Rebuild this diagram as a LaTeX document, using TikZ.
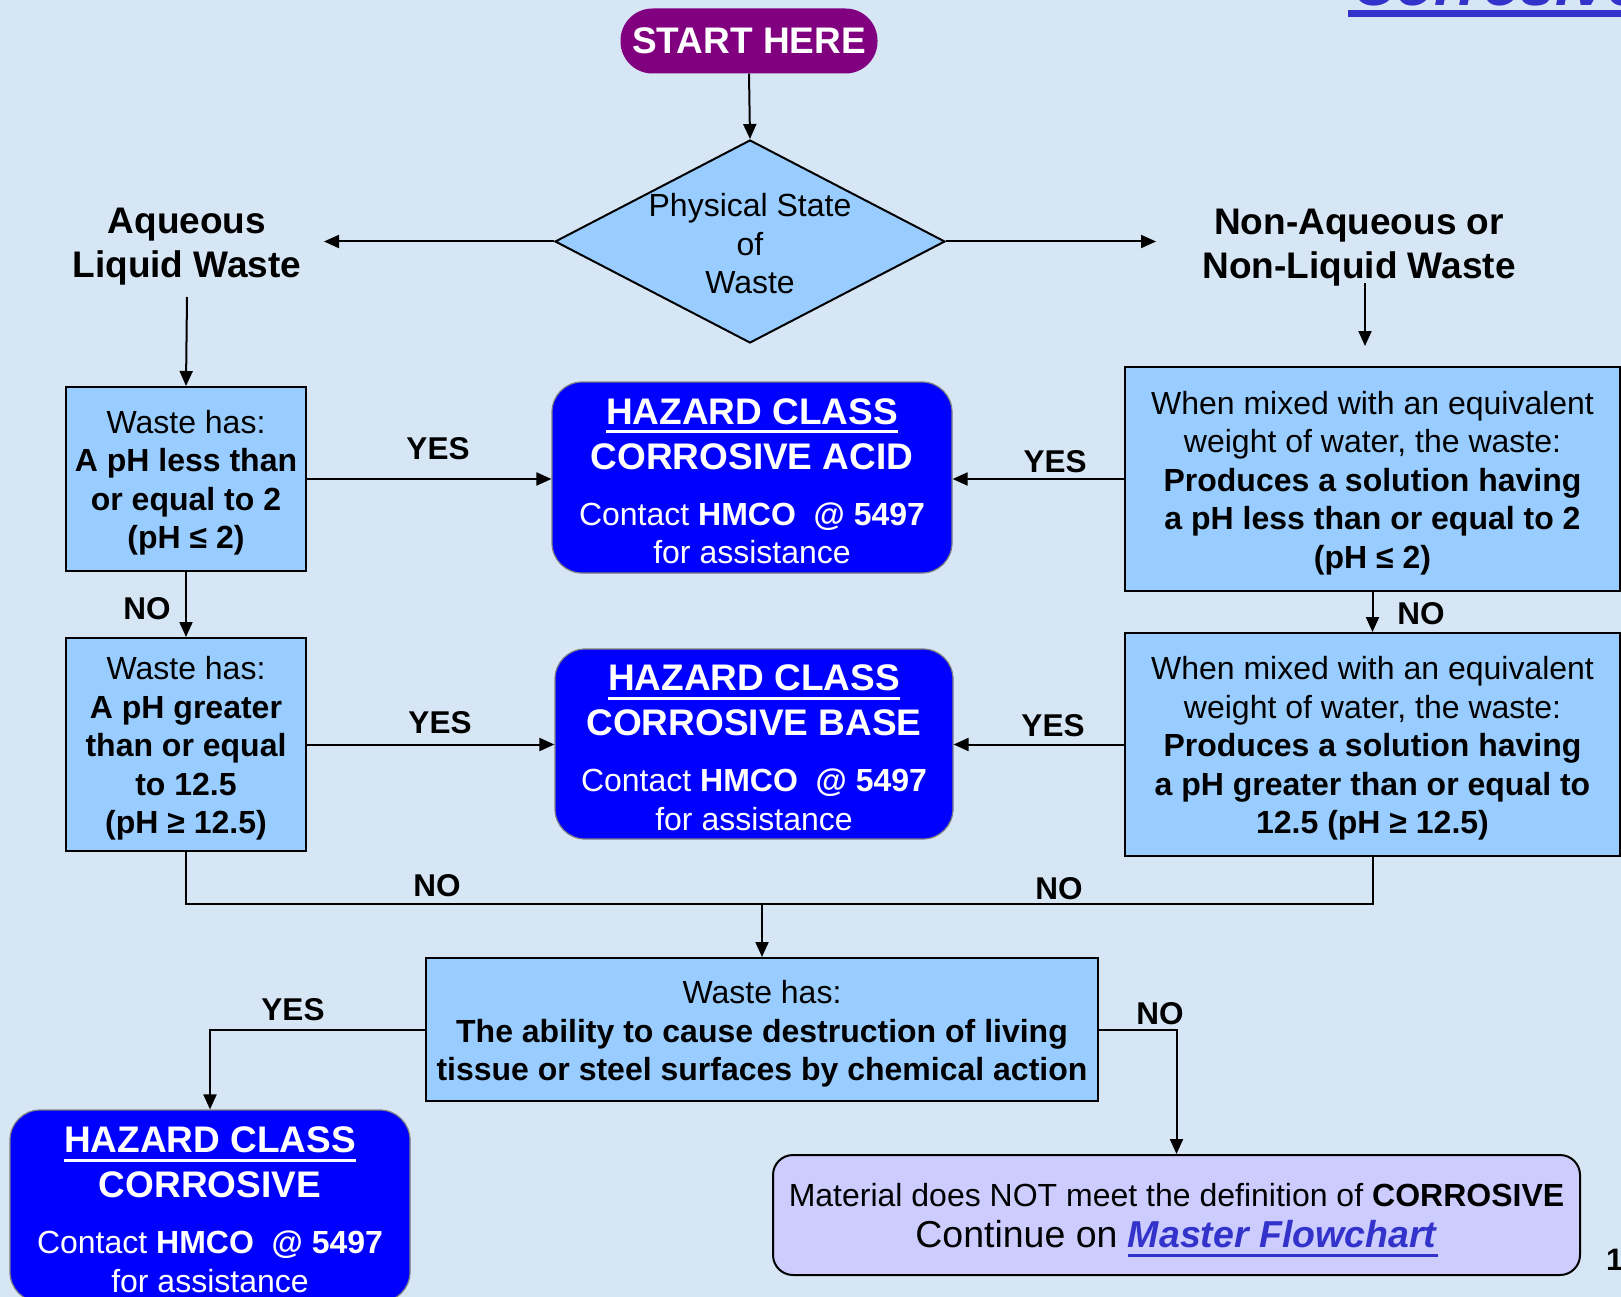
\documentclass[tikz,border=0pt]{standalone}
\usepackage{fontspec}
\setmainfont{Liberation Sans}
\usetikzlibrary{shapes.geometric,arrows.meta}
\definecolor{bgc}{RGB}{215,230,245}
\definecolor{lblue}{RGB}{153,204,255}
\definecolor{dblue}{RGB}{0,0,255}
\definecolor{purp}{RGB}{128,0,128}
\definecolor{lav}{RGB}{204,204,255}
\definecolor{linkc}{RGB}{51,51,204}
\newcommand\fsN{\fontsize{32}{38.5}\selectfont}
\newcommand\fsH{\fontsize{37}{44}\selectfont\bfseries}
\newcommand\fsL{\fontsize{31.5}{36}\selectfont\bfseries}
\newcommand\ulx[1]{\setbox0=\hbox{#1}\rlap{\rule[-9pt]{\wd0}{3pt}}\box0}
\newcommand\tup[1]{\rule{0pt}{#1}}
\tikzset{
  lbox/.style={draw=black, line width=2pt, fill=lblue, align=center, font=\fsN, inner sep=0pt},
  hbox/.style={draw=gray, line width=1.2pt, fill=dblue, rounded corners=30pt, text=white, align=center, font=\fsN, inner sep=0pt},
  arr/.style={line width=2pt, -{Triangle[length=15pt,width=13pt]}},
  conn/.style={line width=2pt},
  lab/.style={font=\fsL, inner sep=0pt},
  head/.style={font=\fsH, align=center, inner sep=0pt}
}
\begin{document}
\begin{tikzpicture}[x=1pt,y=-1pt]
\useasboundingbox (0,0) rectangle (1621,1297);
\clip (0,0) rectangle (1621,1297);
\fill[bgc] (0,0) rectangle (1621,1297);

% partial title top right (cut off by the page edge, as in the reference)
\node[anchor=base west, inner sep=0pt, text=linkc, font=\fontsize{62}{70}\selectfont\bfseries\itshape] (title) at (1352,6) {Corrosive};
\fill[linkc] (1348,10) rectangle (1621,17);
% page number partially visible
\node[anchor=base west, inner sep=0pt, font=\fontsize{31}{36}\selectfont\bfseries] (pgnum) at (1606,1270) {1};

% start
\node[fill=purp, rounded corners=32pt, minimum width=257pt, minimum height=65pt, inner sep=0pt,
      text=white, font=\fontsize{37}{40}\selectfont\bfseries] (start) at (749,41) {START HERE};

% diamond
\node[diamond, draw=black, line width=2pt, fill=lblue, minimum width=390pt, minimum height=203pt, inner sep=0pt] (phys) at (750,241.5) {};
\node[align=center, font=\fsN, inner sep=0pt] (physt) at (750,244) {Physical State\\of\\Waste};

% headings
\node[head] (aq) at (187,247) {Aqueous\\Liquid Waste};
\node[head] (nonaq) at (1359,248) {Non-Aqueous or\\Non-Liquid Waste};
\coordinate (aqE) at (324,241.5);
\coordinate (naW) at (1156,241.5);
\coordinate (aqS) at (187,297);
\coordinate (naS) at (1365,283);
\coordinate (naT) at (1365,346);

% left boxes
\node[lbox, minimum width=240pt, minimum height=184pt] (lb1) at (186,479)
  {\tup{31pt}Waste has:\\\textbf{A pH less than}\\\textbf{or equal to 2}\\\textbf{(pH ≤ 2)}};
\node[lbox, minimum width=240pt, minimum height=213pt] (lb2) at (186,744.5)
  {\tup{31pt}Waste has:\\\textbf{A pH greater}\\\textbf{than or equal}\\\textbf{to 12.5}\\\textbf{(pH ≥ 12.5)}};

% right boxes
\node[lbox, minimum width=495pt, minimum height=224pt] (rb1) at (1372.5,479)
  {\tup{31pt}When mixed with an equivalent\\weight of water, the waste:\\\textbf{Produces a solution having}\\\textbf{a pH less than or equal to 2}\\\textbf{(pH ≤ 2)}};
\node[lbox, minimum width=495pt, minimum height=223pt] (rb2) at (1372.5,744.5)
  {\tup{31pt}When mixed with an equivalent\\weight of water, the waste:\\\textbf{Produces a solution having}\\\textbf{a pH greater than or equal to}\\\textbf{12.5 (pH ≥ 12.5)}};

% hazard boxes
\node[hbox, minimum width=400pt, minimum height=191pt] (acid) at (752,477.5)
  {\tup{33pt}{\fsH\ulx{HAZARD CLASS}}\\[6.5pt]{\fsH CORROSIVE ACID}\\[17.5pt]Contact \textbf{HMCO\ \ @ 5497}\\for assistance};
\node[hbox, minimum width=398pt, minimum height=190pt] (base) at (754,744)
  {\tup{33pt}{\fsH\ulx{HAZARD CLASS}}\\[6.5pt]{\fsH CORROSIVE BASE}\\[17.5pt]Contact \textbf{HMCO\ \ @ 5497}\\for assistance};
\node[hbox, minimum width=400pt, minimum height=192pt] (corr) at (210,1206)
  {\tup{33pt}{\fsH\ulx{HAZARD CLASS}}\\[6.5pt]{\fsH CORROSIVE}\\[17.5pt]Contact \textbf{HMCO\ \ @ 5497}\\for assistance};

% middle box
\node[lbox, minimum width=672pt, minimum height=143pt] (mid) at (762,1029.5)
  {\tup{32pt}Waste has:\\\textbf{The ability to cause destruction of living}\\\textbf{tissue or steel surfaces by chemical action}};

% final box
\node[draw=black, line width=2pt, fill=lav, rounded corners=20pt, minimum width=807pt, minimum height=120pt,
      align=center, inner sep=0pt, font=\fsN] (final) at (1176.5,1215)
  {\tup{33pt}Material does NOT meet the definition of \textbf{CORROSIVE}\\[2.5pt]
   {\fontsize{37.5}{40}\selectfont Continue on \textcolor{linkc}{\ulx{\textbf{\textit{Master Flowchart}}}}}};

% connectors
\draw[arr] (start.south) -- (phys.north);
\draw[arr] (phys.west) -- (aqE);
\draw[arr] (phys.east) -- (naW);
\draw[arr] (aqS) -- (lb1.north);
\draw[arr] (naS) -- (naT);
\draw[arr] (lb1.east) -- (lb1.east -| acid.west);
\draw[arr] (rb1.west) -- (rb1.west -| acid.east);
\draw[arr] (lb2.east) -- (lb2.east -| base.west);
\draw[arr] (rb2.west) -- (rb2.west -| base.east);
\draw[arr] (lb1.south) -- (lb2.north);
\draw[arr] (rb1.south) -- (rb2.north);
\coordinate (join) at (762,904);
\draw[conn] (lb2.south) |- (join) -| (rb2.south);
\draw[arr] (join) -- (mid.north);
\draw[arr] (mid.west) -| (corr.north);
\draw[arr] (mid.east) -| (final.north);

% labels
\node[lab] (y1) at (438,449) {YES};
\node[lab] (y2) at (1055,462) {YES};
\node[lab] (n1) at (147,609) {NO};
\node[lab] (n2) at (1421,614) {NO};
\node[lab] (y3) at (440,723) {YES};
\node[lab] (y4) at (1053,726) {YES};
\node[lab] (n3) at (437,886) {NO};
\node[lab] (n4) at (1059,889) {NO};
\node[lab] (y5) at (293,1010) {YES};
\node[lab] (n5) at (1160,1014) {NO};
\end{tikzpicture}
\end{document}
